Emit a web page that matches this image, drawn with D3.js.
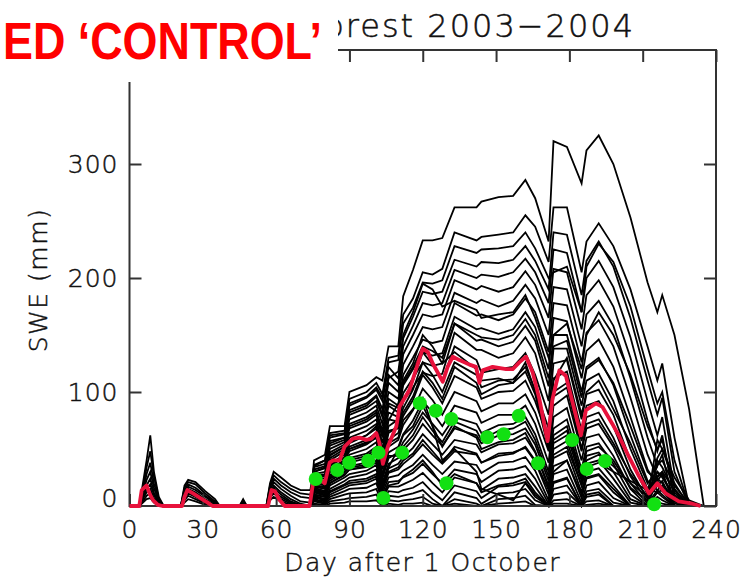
<!DOCTYPE html>
<html>
<head>
<meta charset="utf-8">
<script src="https://cdn.jsdelivr.net/npm/d3@7"></script>
<style>
  html, body { margin: 0; padding: 0; background: #ffffff; }
  svg { display: block; }
</style>
</head>
<body>
<svg id="chart" width="743" height="581"></svg>
<script>
// ---------------- DATA ----------------
const xTicks = [0, 30, 60, 90, 120, 150, 180, 210, 240];
const yTicks = [0, 100, 200, 300];
const titleText = "Forest 2003\u22122004";
const overlayText = "ED \u2018CONTROL\u2019";
const xTitle = "Day after 1 October";
const yTitle = "SWE (mm)";

// Early-season ensemble members (days 0-74)
const earlyDays = [0, 4, 5.5, 7, 8.5, 10, 12, 14, 21, 22.5, 24, 27, 31, 35, 37, 45, 46.5, 48, 56, 57.5, 59, 62, 66, 70, 74];
const early1 = [0,0,20,40,62,30,8,0, 0,18,23,21,13,6,0, 0,6,0, 0,20,30,25,18,14,14];
const early2 = [0,0,16,34,48,26,6,0, 0,16,21,19,11,4,0, 0,5,0, 0,18,27,21,15,11,10];
const early3 = [0,0,13,28,38,20,5,0, 0,14,19,16,9,3,0, 0,3,0, 0,16,24,18,12,8,7];
const early4 = [0,0,11,23,30,16,4,0, 0,12,17,14,8,2,0, 0,2,0, 0,14,21,15,9,4,3];
const early5 = [0,0,9,18,24,12,3,0, 0,10,15,12,6,1,0, 0,1,0, 0,12,18,12,6,2,0];
const early6 = [0,0,7,15,19,10,2,0, 0,8,13,10,4,0,0, 0,0,0, 0,10,16,10,4,1,0];
const early7 = [0,0,6,12,15,7,1,0, 0,7,11,8,3,0,0, 0,0,0, 0,9,13,8,3,0,0];
const early8 = [0,0,4,9,11,5,0,0, 0,5,9,6,2,0,0, 0,0,0, 0,7,11,6,2,0,0];
const early9 = [0,0,3,6,7,3,0,0, 0,3,6,4,1,0,0, 0,0,0, 0,5,8,4,1,0,0];

// Main-season ensemble members (days 74-240)
const mainDays = [74, 75.5, 80, 82, 88, 90, 97, 101, 103.5, 106, 110, 112, 116, 120, 124, 128, 133, 142, 144, 151, 157, 162, 166, 171.5, 173.5, 179, 185, 187, 192, 198, 205, 212, 216, 218, 223, 229, 235, 240];
const member1  = [0,40,45,70,70,100,106,113,110,140, 140,184,207,233,233,235,262,262,267,271,272,286,270, 232,320,315,283,312,325,300,253,196,170,185,150,85,0,0];
const member2  = [0,36,40,64,66,94,100,108,98,130, 132,168,182,205,203,208,240,233,236,238,240,255,245, 214,262,262,205,232,248,228,190,140,110,125,60,0,0,0];
const member3  = [14,34,37,60,63,88,95,102,92,122, 112,147,166,188,186,188,216,210,214,213,216,228,215, 190,240,238,185,215,232,210,165,110,80,95,30,0,0,0];
const member4  = [0,32,35,57,60,84,90,97,85,115, 106,140,158,178,176,178,207,200,203,201,205,217,205, 178,225,222,170,200,215,192,148,92,62,78,15,0,0,0];
const member5  = [0,30,33,53,58,80,86,92,78,108, 100,133,150,168,166,168,198,190,193,188,192,206,194, 165,208,205,155,185,198,175,130,75,48,62,5,0,0,0];
const member6  = [10,28,30,50,56,76,82,88,72,100, 94,124,140,157,155,157,187,178,181,175,180,194,182, 150,192,190,140,168,180,158,112,60,35,45,0,0,0,0];
const member7  = [0,27,28,47,54,72,78,84,66,94, 88,115,130,146,143,145,178,167,168,163,168,182,170, 135,178,176,126,152,163,140,95,45,25,30,0,0,0,0];
const member8  = [0,25,26,44,52,68,74,80,60,88, 82,106,120,135,132,134,166,155,156,151,155,170,157, 120,165,162,112,136,146,122,78,32,18,22,0,0,0,0];
const member9  = [7,24,24,42,50,64,70,76,55,82, 78,99,112,126,123,125,160,145,146,140,144,158,145, 105,150,150,100,122,130,106,62,22,14,18,0,0,0,0];
const member10 = [0,22,22,40,48,60,66,72,50,76, 74,92,104,117,114,116,152,137,137,130,134,148,134, 92,138,138,88,110,116,92,50,15,12,14,0,0,0,0];
const member11 = [0,21,20,37,45,56,62,68,45,70, 76,92,110,135,124,110,140,128,117,120,122,134,115, 80,125,128,76,98,102,80,40,10,22,16,4,0,0,0];
const member12 = [3,20,18,35,43,52,58,64,40,64, 70,86,102,126,115,100,126,115,104,110,111,122,102, 68,112,118,66,88,92,70,32,6,18,13,2,0,0,0];
const member13 = [0,18,16,32,40,48,54,60,36,58, 64,79,93,115,104,90,114,104,94,100,101,110,92, 58,100,108,57,78,82,60,26,4,30,25,8,0,0,0];
const member14 = [0,17,15,30,38,45,50,56,32,52, 58,71,84,103,93,80,100,92,83,90,90,98,82, 48,88,97,48,68,72,52,20,2,14,10,0,0,0,0];
const member15 = [0,16,13,27,35,42,46,52,28,47, 52,63,75,92,82,70,88,82,73,80,80,88,72, 38,78,86,40,60,63,44,15,0,40,34,12,0,0,0];
const member16 = [0,14,12,25,32,38,42,48,24,42, 47,56,67,82,72,62,78,72,64,71,72,78,63, 30,68,76,32,52,55,37,10,0,8,5,0,0,0,0];
const member17 = [0,13,10,22,30,35,38,44,20,37, 42,49,58,72,62,53,68,62,55,62,63,68,54, 22,58,66,25,44,47,30,6,0,24,20,5,0,0,0];
const member18 = [0,12,9,20,27,32,35,40,17,33, 37,43,51,63,54,45,58,54,47,54,55,60,47, 16,50,57,18,37,40,24,3,0,4,2,0,0,0,0];
const member19 = [0,10,8,18,25,28,31,36,14,29, 32,37,44,54,45,37,48,45,38,46,47,51,39, 10,42,48,12,30,33,18,0,0,12,8,0,0,0,0];
const member20 = [0,9,6,15,22,25,28,32,11,25, 27,31,36,45,36,28,39,36,29,38,39,43,31, 5,35,40,7,24,27,12,0,0,0,0,0,0,0,0];
const member21 = [0,8,5,13,19,22,24,28,8,21, 22,25,29,37,28,20,32,28,21,31,32,35,24, 2,28,32,3,18,21,7,0,0,0,0,0,0,0,0];
const member22 = [0,6,4,10,16,18,20,24,6,17, 17,19,23,29,20,12,25,20,14,24,25,28,17, 0,21,25,0,13,15,3,0,0,0,0,0,0,0,0];
const member23 = [0,5,3,8,13,15,16,20,4,13, 12,14,16,21,12,5,18,13,7,17,18,21,10, 0,15,18,0,8,10,0,0,0,0,0,0,0,0,0];
const member24 = [0,4,2,6,10,11,12,15,2,9, 8,9,11,14,6,0,12,7,2,11,12,15,5, 0,10,12,0,4,5,0,0,0,0,0,0,0,0,0];
const member25 = [0,2,1,4,6,7,8,10,1,5, 4,5,6,8,2,0,6,2,0,6,7,9,1, 0,5,6,0,1,2,0,0,0,0,0,0,0,0,0];
const member26 = [0,1,0,2,3,4,4,5,0,2, 1,2,2,3,0,0,2,0,0,2,3,4,0, 0,2,2,0,0,0,0,0,0,0,0,0,0,0,0];
const member27 = [0,15,12,30,40,50,55,60,35,55, 60,75,85,95,70,40,50,30,15,10,5,20,8, 0,30,40,10,25,28,15,0,0,0,0,0,0,0,0];
const member28 = [0,20,22,36,42,55,62,70,48,75, 90,110,125,150,140,125,135,120,110,112,108,126,100, 60,110,130,80,100,110,85,55,20,30,26,8,0,0,0];
const member29 = [0,30,34,55,60,82,88,96,80,112, 118,150,170,195,190,175,180,172,165,168,170,185,165, 130,150,160,120,150,170,150,115,70,50,58,10,0,0,0];
const member30 = [0,10,8,20,28,32,34,38,16,30, 34,40,46,58,48,38,52,46,38,44,46,52,40, 14,45,52,18,34,38,30,22,14,42,50,25,5,0,0];
const member31 = [0,12,10,24,30,34,36,40,18,34, 50,62,70,88,70,52,70,60,50,56,58,64,48, 18,55,62,22,40,45,35,20,8,26,30,14,0,0,0];
const member32 = [0,35,40,62,64,90,96,104,95,126, 128,160,174,196,195,198,228,222,225,226,228,240,226, 200,205,210,170,210,230,214,175,120,90,100,40,0,0,0];
const member33 = [0,8,5,12,18,20,22,26,6,18, 20,26,32,40,30,18,28,20,12,18,20,24,12, 0,20,24,0,10,12,0,0,0,0,0,0,0,0,0];
const member34 = [0,18,17,33,40,50,56,62,42,66, 68,82,96,118,108,94,122,108,98,106,108,118,98, 50,96,104,50,72,76,55,28,8,36,40,18,2,0,0];
const member35 = [0,26,27,45,52,70,76,82,62,90, 86,108,122,140,136,130,160,150,148,146,150,164,150, 112,140,145,95,120,128,108,70,30,22,28,4,0,0,0];
const member36 = [0,14,11,26,34,40,44,50,26,44, 44,52,62,78,66,56,74,66,58,66,68,74,58, 26,62,70,28,48,52,40,16,4,58,50,20,0,0,0];

// 'Control' run (red)
const controlDays = [0,4,5,7,8.4,9.7,11.6,13.5,21.5,22.5,23.7,26,29,32,34,56.7,58.1,59.5,61.5,63.5,73.7,75.1,76.5,79.9,81.9,83.3,86,88,91.4,94.1,96.9,98.9,101,102.3,103.7,105.7,109.2,110.5,114.6,118,120,122.1,124.1,128.2,130.2,132.3,135,139.1,141.8,143.2,144.5,148.6,154.1,156.8,159.5,162.3,165,167.7,171.1,173.1,175.9,178.6,181.3,184.7,186.8,190.8,193.5,197.6,200.4,204.4,208.5,212.6,216,219.4,224.8,230.3,233.7];
const controlSWE  = [0,0,14,18,10,5,1,0,0,8,14,11,7,3,0,0,14,13,5,0,0,20,26,20,38,40,40,52,59,60,58,59,64,55,37,52,70,87,102,125,138,135,125,109,122,131,128,124,122,108,119,122,120,120,126,131,117,94,57,94,119,114,91,62,84,90,87,72,61,43,26,11,20,11,4,2,0];

// Observations (green)
const obsDays = [76.2, 85.0, 89.9, 97.7, 101.9, 103.9, 111.6, 118.8, 125.3, 131.7, 129.7, 146.4, 153.1, 159.3, 167.2, 181.1, 187.1, 194.6, 214.7];
const obsSWE  = [23.7, 31.6, 38.0, 39.7, 46.8, 7.0, 46.8, 90.1, 83.6, 76.3, 19.9, 60.3, 62.9, 79.2, 37.5, 57.9, 32.5, 39.5, 1.5];

// ---------------- CHART ----------------
const svg = d3.select("#chart");
const FONT = "'DejaVu Sans', 'Liberation Sans', sans-serif";
const x = d3.scaleLinear().domain([0, 240]).range([129.5, 716]);
const y = d3.scaleLinear().domain([0, 400]).range([506, 50]);

const line = d3.line().x(d => x(d[0])).y(d => y(d[1]));

const earlyMembers = [early1, early2, early3, early4, early5, early6, early7, early8, early9];
const mainMembers = [member1, member2, member3, member4, member5, member6, member7, member8, member9, member10,
  member11, member12, member13, member14, member15, member16, member17, member18, member19, member20,
  member21, member22, member23, member24, member25, member26, member27, member28, member29, member30,
  member31, member32, member33, member34, member35, member36];

const dataG = svg.append("g");
dataG.selectAll("path.early").data(earlyMembers).join("path")
  .attr("class", "early")
  .attr("d", v => line(d3.zip(earlyDays, v)))
  .attr("fill", "none").attr("stroke", "#000").attr("stroke-width", 1.8).attr("stroke-linejoin", "miter");
dataG.selectAll("path.main").data(mainMembers).join("path")
  .attr("class", "main")
  .attr("d", v => line(d3.zip(mainDays, v)))
  .attr("fill", "none").attr("stroke", "#000").attr("stroke-width", 1.8).attr("stroke-linejoin", "miter");

// Frame and axes
const axisColor = "#333";
svg.append("rect").attr("x", x(0)).attr("y", y(400)).attr("width", x(240) - x(0)).attr("height", y(0) - y(400))
  .attr("fill", "none").attr("stroke", axisColor).attr("stroke-width", 2);

function styleText(sel) {
  sel.attr("font-family", FONT).attr("font-size", 25).attr("font-weight", 200)
    .attr("fill", "#111").attr("stroke", "#111").attr("stroke-width", 0.45);
}
function styleAxis(g) {
  g.select(".domain").remove();
  g.selectAll(".tick line").attr("stroke", axisColor).attr("stroke-width", 2);
  g.selectAll(".tick text").call(styleText).attr("letter-spacing", "1px");
}
svg.append("g").attr("transform", `translate(0,${y(0)})`)
  .call(d3.axisBottom(x).tickValues(xTicks).tickSize(-12).tickPadding(14)).call(styleAxis);
svg.append("g").attr("transform", `translate(0,${y(400)})`)
  .call(d3.axisTop(x).tickValues(xTicks).tickSize(-12).tickFormat("")).call(styleAxis);
const yAx = svg.append("g").attr("transform", `translate(${x(0)},0)`)
  .call(d3.axisLeft(y).tickValues(yTicks).tickSize(-12).tickPadding(11)).call(styleAxis);
yAx.selectAll(".tick text").filter(d => d === 0).attr("dy", "0.0em");
svg.append("g").attr("transform", `translate(${x(240)},0)`)
  .call(d3.axisRight(y).tickValues(yTicks).tickSize(-12).tickFormat("")).call(styleAxis);

// Control run (red)
svg.append("path").attr("d", line(d3.zip(controlDays, controlSWE)))
  .attr("fill", "none").attr("stroke", "#e8123c").attr("stroke-width", 3.8).attr("stroke-linejoin", "round");

// Observations
svg.append("g").selectAll("circle").data(d3.zip(obsDays, obsSWE)).join("circle")
  .attr("cx", d => x(d[0])).attr("cy", d => y(d[1])).attr("r", 7).attr("fill", "#12e012");

// Axis titles
svg.append("text").attr("x", (x(0) + x(240)) / 2).attr("y", 571).attr("text-anchor", "middle")
  .call(styleText).attr("letter-spacing", "1.5px").text(xTitle);
svg.append("text").attr("transform", "translate(47,280) rotate(-90)").attr("text-anchor", "middle")
  .call(styleText).attr("letter-spacing", "1.5px").text(yTitle);

// White box covering top-left (as in the reference slide)
svg.append("rect").attr("x", 0).attr("y", 0).attr("width", 338).attr("height", 82).attr("fill", "#fff");

// Title (left part hidden behind the box)
svg.append("defs").append("clipPath").attr("id", "titleClip")
  .append("rect").attr("x", 338).attr("y", 0).attr("width", 405).attr("height", 82);
svg.append("text").attr("x", 635).attr("y", 37).attr("text-anchor", "end")
  .attr("clip-path", "url(#titleClip)")
  .call(styleText).attr("font-size", 32).attr("letter-spacing", "2px").attr("stroke-width", 0.5)
  .text(titleText);

// Red overlay label
svg.append("g").attr("transform", "translate(322,59) scale(0.88,1)")
  .append("text").attr("x", 0).attr("y", 0).attr("text-anchor", "end")
  .attr("font-family", "'Liberation Sans', Arial, sans-serif").attr("font-weight", "bold").attr("font-size", 51)
  .attr("fill", "#ff0000").text(overlayText);
</script>
</body>
</html>
